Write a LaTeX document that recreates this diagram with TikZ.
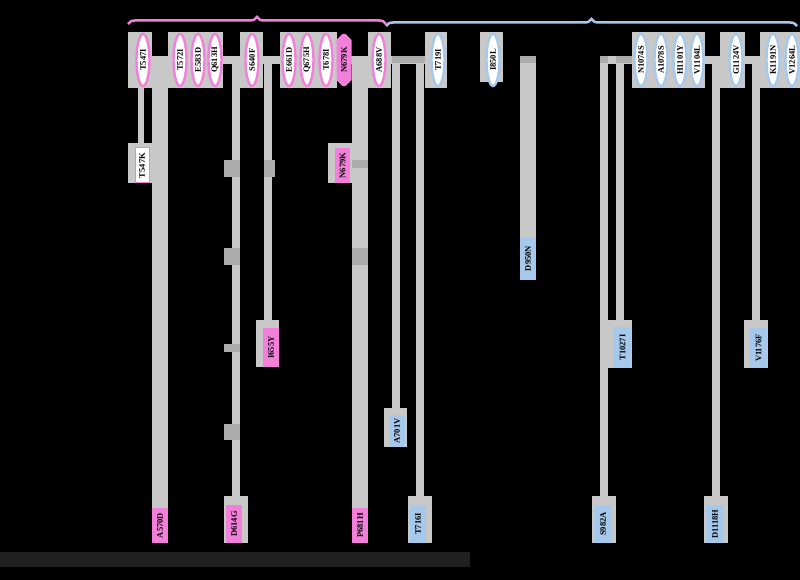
\documentclass[tikz,border=0pt]{standalone}
\usepackage{fontspec}
\setmainfont{Liberation Serif}
\usetikzlibrary{shapes.geometric,shapes.misc,decorations.pathreplacing}
\definecolor{pk}{RGB}{242,128,218}
\definecolor{bl}{RGB}{166,200,234}
\definecolor{gr}{RGB}{200,200,200}
\definecolor{dg}{RGB}{172,172,172}
\definecolor{barc}{RGB}{32,32,32}
\pgfdeclarelayer{back}
\pgfdeclarelayer{mid}
\pgfsetlayers{back,mid,main}
\begin{document}
\begin{tikzpicture}[x=1pt,y=-1pt,
  lab/.style={font=\fontsize{8.5}{8.5}\selectfont\bfseries, text=black, inner sep=0pt, rotate=90},
  pell/.style={lab, ellipse, draw=pk, line width=2.4pt, fill=white, minimum width=52pt, minimum height=13pt},
  bell/.style={pell, draw=bl},
  pcham/.style={lab, chamfered rectangle, chamfered rectangle xsep=3pt, fill=pk, minimum width=52pt, minimum height=15pt},
  pbox/.style={lab, rectangle, fill=pk},
  bbox/.style={lab, rectangle, fill=bl},
  wbox/.style={lab, rectangle, fill=white, draw=pk, line width=1pt},
  strip/.style={draw=gr, line width=#1},
  strip/.default=8pt,
  bgg/.style={fill=gr},
  jmark/.style={fill=dg},
  brc/.style={line width=2.5pt, decorate, decoration={brace, amplitude=7pt}}
]
\begin{pgfonlayer}{back}
% background
\fill[black] (0,0) rectangle (800,580);
% backbone
\fill[bgg] (128,56) rectangle (440,64);
\fill[jmark] (392,56) rectangle (440,63);
\fill[bgg] (600,56) rectangle (800,64);
\fill[jmark] (600,56) rectangle (608,63);
\fill[jmark] (616,56) rectangle (632,63);
\fill[jmark] (520,56) rectangle (536,63);
% grey panels behind the top ellipses
\fill[bgg] (128,32) rectangle (152,88);
\fill[bgg] (168,32) rectangle (223,88);
\fill[bgg] (240,32) rectangle (263,88);
\fill[bgg] (280,32) rectangle (337,88);
\fill[bgg] (368,32) rectangle (391,88);
\fill[bgg] (425,32) rectangle (447,88);
\fill[bgg] (480,32) rectangle (503,82);
\fill[bgg] (632,32) rectangle (705,88);
\fill[bgg] (720,32) rectangle (745,88);
\fill[bgg] (760,32) rectangle (800,88);
% grey panels behind the lower boxes
\fill[bgg] (128,143) rectangle (152,183);
\fill[bgg] (328,143) rectangle (352,183);
\fill[bgg] (256,320) rectangle (279,367);
\fill[bgg] (384,408) rectangle (407,447);
\fill[bgg] (520,223) rectangle (536,237);
\fill[bgg] (608,320) rectangle (632,368);
\fill[bgg] (744,320) rectangle (768,368);
\fill[bgg] (224,496) rectangle (248,543);
\fill[bgg] (408,496) rectangle (432,543);
\fill[bgg] (592,496) rectangle (616,543);
\fill[bgg] (704,496) rectangle (728,543);
\end{pgfonlayer}
\useasboundingbox (0,0) rectangle (800,580);

% branch points on the backbone
\coordinate (b141) at (141,62);
\coordinate (b160) at (160,62);
\coordinate (b236) at (236,62);
\coordinate (b268) at (268,62);
\coordinate (b360) at (360,62);
\coordinate (b397) at (396,63);
\coordinate (b420) at (420,63);
\coordinate (b528) at (528,63);
\coordinate (b604) at (604,63);
\coordinate (b620) at (620,63);
\coordinate (b716) at (716,62);
\coordinate (b756) at (756,62);

% top mutations
\node[pell] (t547i) at (143,60) {T547I};
\node[pell] (t572i) at (180,60) {T572I};
\node[pell] (e583d) at (198,60) {E583D};
\node[pell] (q613h) at (215,60) {Q613H};
\node[pell] (s640f) at (252,60) {S640F};
\node[pell] (e661d) at (289,60) {E661D};
\node[pell] (q675h) at (307,60) {Q675H};
\node[pell] (t678i) at (326,60) {T678I};
\node[pcham] (n679k) at (344,60) {N679K};
\node[pell] (a688v) at (379,60) {A688V};
\node[bell] (t719i) at (438,60) {T719I};
\node[bell] (i850l) at (493,60) {I850L};
\node[bell] (n1074s) at (641,60) {N1074S};
\node[bell] (a1078s) at (661,60) {A1078S};
\node[bell] (h1101y) at (680,60) {H1101Y};
\node[bell] (v1104l) at (697,60) {V1104L};
\node[bell] (g1124v) at (736,60) {G1124V};
\node[bell] (k1191n) at (773,60) {K1191N};
\node[bell] (v1264l) at (792,60) {V1264L};

% lower mutations
\node[wbox, minimum width=35pt, minimum height=14pt] (t547k) at (142,165.5) {T547K};
\node[pbox, minimum width=35pt, minimum height=15pt] (n679km) at (342.5,165.5) {N679K};
\node[pbox, minimum width=39pt, minimum height=16pt] (i655y) at (271,347.5) {I655Y};
\node[bbox, minimum width=32pt, minimum height=16pt] (a701v) at (397,431) {A701V};
\node[bbox, minimum width=43pt, minimum height=16pt] (d950n) at (528,258.5) {D950N};
\node[bbox, minimum width=41pt, minimum height=17pt] (t1027i) at (622.5,347.5) {T1027I};
\node[bbox, minimum width=40pt, minimum height=17pt] (v1176f) at (758.5,348) {V1176F};
\node[pbox, minimum width=35pt, minimum height=16pt] (a570d) at (160,525.5) {A570D};
\node[pbox, minimum width=38pt, minimum height=16pt] (d614g) at (234,524) {D614G};
\node[pbox, minimum width=35pt, minimum height=16pt] (p681h) at (360,525.5) {P681H};
\node[bbox, minimum width=38pt, minimum height=16pt] (t716i) at (418,524) {T716I};
\node[bbox, minimum width=38pt, minimum height=18pt] (s982a) at (603,524) {S982A};
\node[bbox, minimum width=38pt, minimum height=18pt] (d1118h) at (715,524) {D1118H};

% vertical connectors, behind the shapes
\begin{pgfonlayer}{mid}
\draw[strip=6pt] (b141) -- (b141 |- t547k.center);
\draw[strip=16pt] (b160) -- (b160 |- a570d.center);
\draw[strip=8pt] (b236) -- (b236 |- d614g.center);
\draw[strip=8pt] (b268) -- (b268 |- i655y.center);
\draw[strip=16pt] (b360) -- (b360 |- p681h.center);
\draw[strip=8pt] (b397) -- (b397 |- a701v.center);
\draw[strip=8pt] (b420) -- (b420 |- t716i.center);
\draw[strip=16pt] (b528) -- (b528 |- d950n.center);
\draw[strip=8pt] (b604) -- (b604 |- s982a.center);
\draw[strip=8pt] (b620) -- (b620 |- t1027i.center);
\draw[strip=8pt] (b716) -- (b716 |- d1118h.center);
\draw[strip=8pt] (b756) -- (b756 |- v1176f.center);
% junction markers
\fill[jmark] (224,160) rectangle (240,177);
\fill[jmark] (224,248) rectangle (240,265);
\fill[jmark] (224,344) rectangle (240,352);
\fill[jmark] (224,424) rectangle (240,440);
\fill[jmark] (264,160) rectangle (275,177);
\fill[jmark] (352,160) rectangle (368,168);
\fill[jmark] (352,248) rectangle (368,265);
\end{pgfonlayer}

% braces
\coordinate (s1l) at (128,24);
\coordinate (s1r) at (386,24);
\coordinate (s2l) at (386,26);
\coordinate (s2r) at (797,26);
\draw[pk, brc] (s1l) -- (s1r);
\draw[bl, brc] (s2l) -- (s2r);
\node[font=\fontsize{6}{6}\selectfont\bfseries, text=black] (s1) at (258,6) {S1};
\node[font=\fontsize{6}{6}\selectfont\bfseries, text=black] (s2) at (594,6) {S2};

% bottom bar
\fill[barc] (0,552) rectangle (470,567);
\end{tikzpicture}
\end{document}
